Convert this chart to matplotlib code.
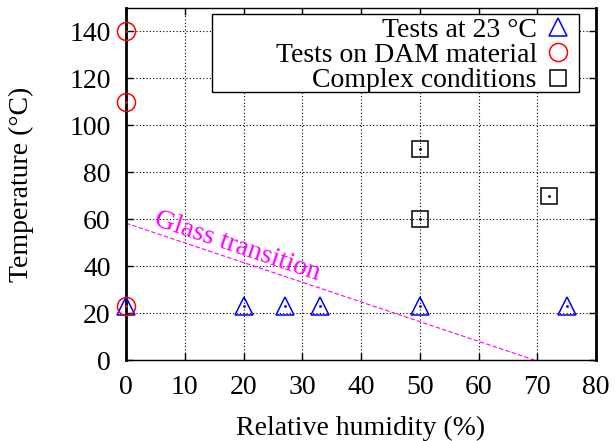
import numpy as np
import matplotlib
matplotlib.use('Agg')
import matplotlib.pyplot as plt
from matplotlib.patches import Rectangle

plt.rcParams['font.family'] = ['Liberation Serif', 'DejaVu Serif']

# data
rh_23 = [0, 20, 27, 33, 50, 75]
temp_23 = [23, 23, 23, 23, 23, 23]
rh_dam = [0, 0, 0]
temp_dam = [140, 110, 23]
rh_complex = [50, 50, 72]
temp_complex = [90, 60, 70]
glass_rh = [0, 69.5]
glass_temp = [58.3, 0]

FS = 20

fig = plt.figure(figsize=(6.15, 4.41), dpi=100)
ax = fig.add_axes([126 / 615, 1 - 360 / 441, 470 / 615, 352 / 441])

ax.plot(glass_rh, glass_temp, color='magenta', ls=(0, (4, 2)), lw=0.8, zorder=2)
ax.text(18.9, 48.3, 'Glass transition', color='magenta', fontsize=FS,
        rotation=-18.6, ha='center', va='center', rotation_mode='anchor')

ax.plot(rh_23, temp_23, ls='none', marker='^', ms=13, mfc='none', mec='blue',
        mew=1.1, label='Tests at 23 °C', zorder=4, clip_on=False)
ax.plot(rh_dam, temp_dam, ls='none', marker='o', ms=13, mfc='none', mec='red',
        mew=1.1, label='Tests on DAM material', zorder=4, clip_on=False)
ax.plot(rh_complex, temp_complex, ls='none', marker='s', ms=12, mfc='none', mec='black',
        mew=1.1, label='Complex conditions', zorder=4, clip_on=False)
# small centre dots as in gnuplot point types
ax.plot(rh_23, temp_23, ls='none', marker='.', ms=2, color='blue', zorder=5, clip_on=False)
ax.plot(rh_dam, temp_dam, ls='none', marker='.', ms=2, color='red', zorder=5, clip_on=False)
ax.plot(rh_complex, temp_complex, ls='none', marker='.', ms=2, color='black', zorder=5)

ax.set_xlim(0, 80)
ax.set_ylim(0, 150)
ax.set_xticks(np.arange(0, 81, 10))
ax.set_yticks(np.arange(0, 141, 20))
ax.tick_params(direction='in', top=True, right=True, length=5, width=1,
               labelsize=FS, pad=11, colors='black')
ax.grid(True, color='black', ls=(0, (1, 2)), lw=0.8)
for side in ['left', 'right']:
    ax.spines[side].set_linewidth(2)
for side in ['top', 'bottom']:
    ax.spines[side].set_linewidth(1)

ax.set_xlabel('Relative humidity (%)', fontsize=FS, labelpad=11)
ax.set_ylabel('Temperature (°C)', fontsize=FS, labelpad=25)

# gnuplot-style key box, wider than the entries
ax.add_patch(Rectangle((0.183, 0.761), 0.781, 0.222, transform=ax.transAxes,
                       facecolor='white', edgecolor='black', lw=1, zorder=6))
leg = ax.legend(loc='upper right', bbox_to_anchor=(0.9426, 0.974), borderaxespad=0,
                fontsize=FS, markerfirst=False, frameon=False,
                labelspacing=0.0, handlelength=0.8,
                handletextpad=0.36, borderpad=0, numpoints=1)
leg.set_zorder(7)
for t in leg.get_texts():
    t.set_ha('right')

fig.savefig('out.png', dpi=100)
